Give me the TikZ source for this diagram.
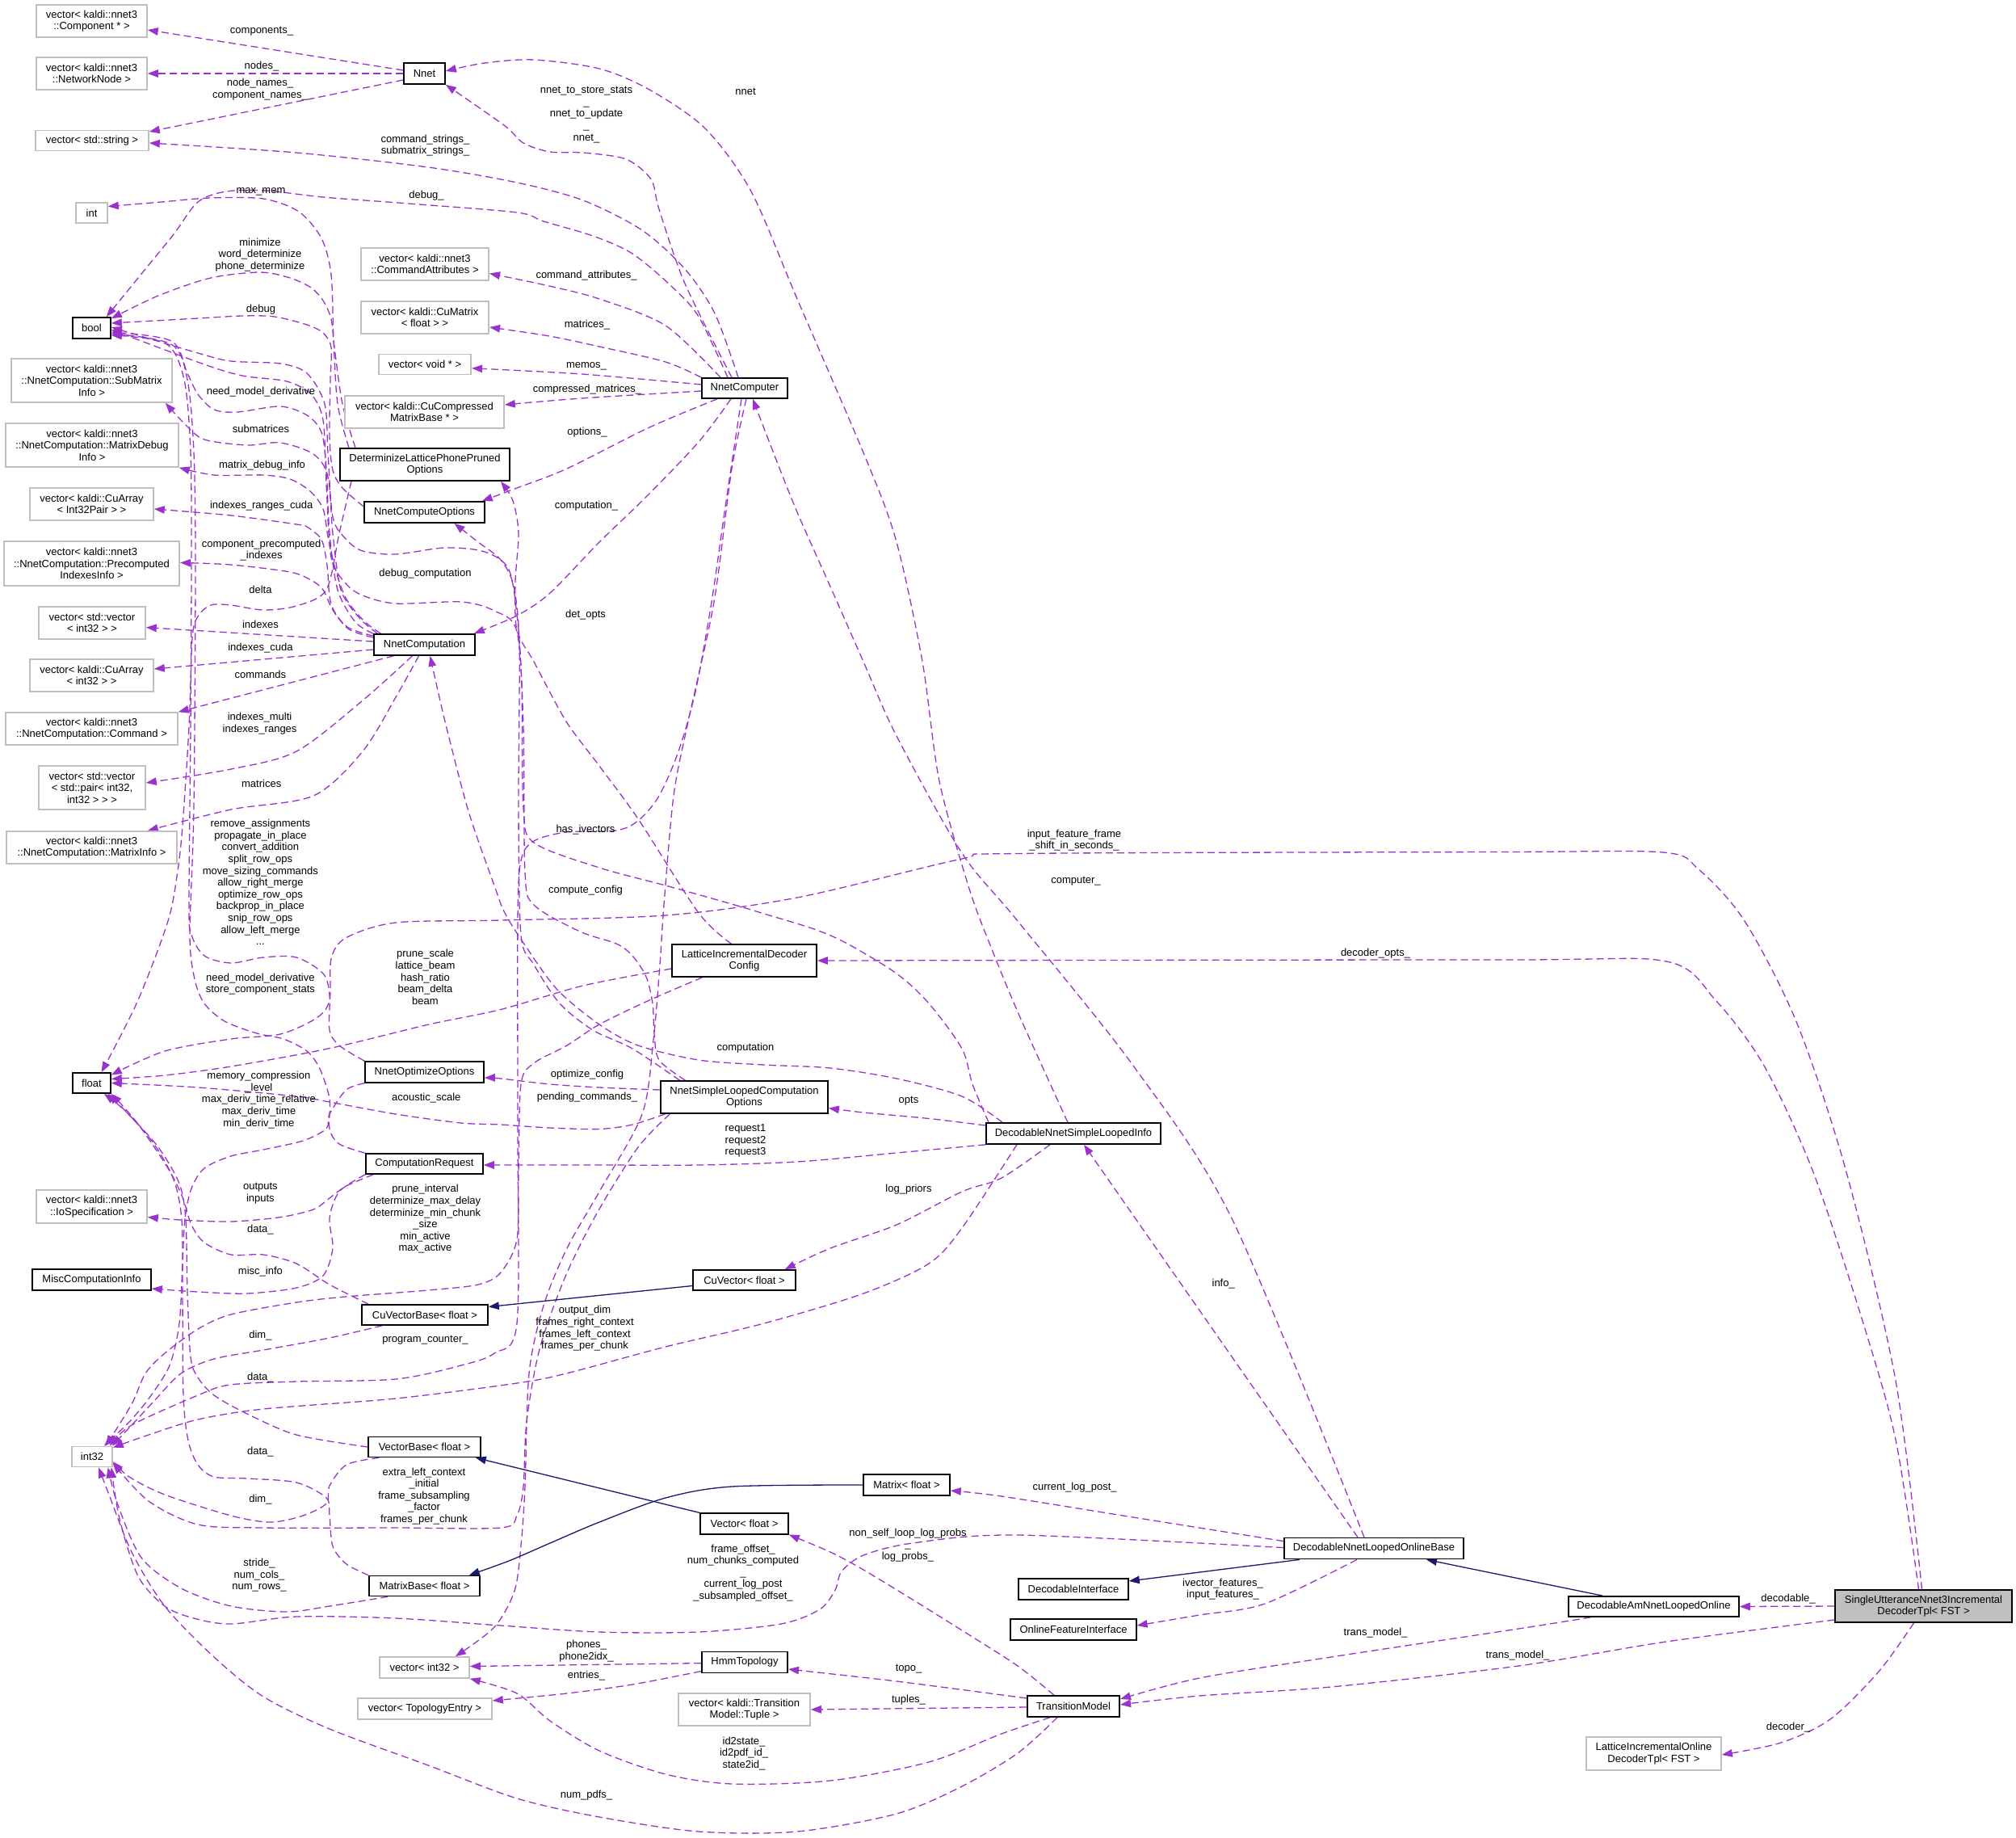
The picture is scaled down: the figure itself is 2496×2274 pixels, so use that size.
\documentclass[tikz,border=0pt]{standalone}
\usepackage{fontspec}
\setmainfont{Liberation Sans}
\usetikzlibrary{arrows.meta}
\definecolor{edgec}{RGB}{154,50,205}
\definecolor{inhc}{RGB}{25,25,112}
\definecolor{grayb}{RGB}{191,191,191}
\pgfdeclarelayer{edgelayer}
\pgfsetlayers{edgelayer,main}
\begin{document}
\begin{tikzpicture}[x=1pt,y=-1pt,
  every node/.style={font=\fontsize{13}{14.6}\selectfont,inner sep=0pt,align=center},
  cls/.style={draw=black,line width=1.6pt,fill=white},
  ext/.style={draw=grayb,line width=1.6pt,fill=white},
  e/.style={draw=edgec,line width=1.3pt,dash pattern=on 9pt off 5pt,-{Triangle[length=13pt,width=9.5pt]}},
  inh/.style={draw=inhc,line width=1.3pt,-{Triangle[length=13pt,width=9.5pt]}},
  sm/.style={smooth,tension=0.5}]
\path[use as bounding box] (0,0) rectangle (2496,2274);

% ---------- class nodes ----------
\node[ext,minimum width=137pt,minimum height=40.5pt] (comp) at (113.5,26) {vector< kaldi::nnet3\\::Component * >};
\node[ext,minimum width=137pt,minimum height=40pt] (netnode) at (113.5,91) {vector< kaldi::nnet3\\::NetworkNode >};
\node[ext,minimum width=140pt,minimum height=25pt] (strvec) at (114,174) {vector< std::string >};
\node[ext,minimum width=39pt,minimum height=25pt] (int) at (113.5,263.5) {int};
\node[cls,minimum width=47pt,minimum height=26pt] (bool) at (113.5,406) {bool};
\node[ext,minimum width=199pt,minimum height=54pt] (submat) at (113.5,471) {vector< kaldi::nnet3\\::NnetComputation::SubMatrix\\Info >};
\node[ext,minimum width=214pt,minimum height=54pt] (matdebug) at (114,551) {vector< kaldi::nnet3\\::NnetComputation::MatrixDebug\\Info >};
\node[ext,minimum width=153pt,minimum height=40pt] (cuarrpair) at (113.5,624) {vector< kaldi::CuArray\\< Int32Pair > >};
\node[ext,minimum width=217.5pt,minimum height=55pt] (precomp) at (113.5,697.5) {vector< kaldi::nnet3\\::NnetComputation::Precomputed\\IndexesInfo >};
\node[ext,minimum width=132pt,minimum height=40pt] (stdvecint) at (114,771) {vector< std::vector\\< int32 > >};
\node[ext,minimum width=153pt,minimum height=40pt] (cuarrint) at (113.5,836) {vector< kaldi::CuArray\\< int32 > >};
\node[ext,minimum width=213pt,minimum height=40pt] (command) at (113.5,902) {vector< kaldi::nnet3\\::NnetComputation::Command >};
\node[ext,minimum width=132pt,minimum height=54pt] (pairvec) at (114,975) {vector< std::vector\\< std::pair< int32,\\int32 > > >};
\node[ext,minimum width=211pt,minimum height=40pt] (matinfo) at (113.5,1049) {vector< kaldi::nnet3\\::NnetComputation::MatrixInfo >};
\node[cls,minimum width=47pt,minimum height=25pt] (float) at (113.5,1340.5) {float};
\node[ext,minimum width=137pt,minimum height=41pt] (iospec) at (113.5,1493.5) {vector< kaldi::nnet3\\::IoSpecification >};
\node[cls,minimum width=147pt,minimum height=26pt] (misc) at (113.5,1584) {MiscComputationInfo};
\node[ext,minimum width=50pt,minimum height=25pt] (int32) at (114,1803) {int32};
\node[cls,minimum width=51pt,minimum height=26pt] (nnet) at (525.5,91) {Nnet};
\node[ext,minimum width=158.5pt,minimum height=40pt] (cmdattr) at (526,327) {vector< kaldi::nnet3\\::CommandAttributes >};
\node[ext,minimum width=158.5pt,minimum height=40pt] (cumat) at (526,393) {vector< kaldi::CuMatrix\\< float > >};
\node[ext,minimum width=114.5pt,minimum height=25pt] (voidvec) at (526,451) {vector< void * >};
\node[ext,minimum width=197pt,minimum height=40pt] (cucomp) at (525.5,510) {vector< kaldi::CuCompressed\\MatrixBase * >};
\node[cls,minimum width=210pt,minimum height=40pt] (dlpp) at (526,575) {DeterminizeLatticePhonePruned\\Options};
\node[cls,minimum width=149pt,minimum height=26pt] (nco) at (525.5,634) {NnetComputeOptions};
\node[cls,minimum width=125pt,minimum height=26pt] (ncomp) at (525.5,798) {NnetComputation};
\node[cls,minimum width=147pt,minimum height=26pt] (noo) at (525.5,1327) {NnetOptimizeOptions};
\node[cls,minimum width=145pt,minimum height=25pt] (creq) at (525.5,1440.5) {ComputationRequest};
\node[cls,minimum width=156pt,minimum height=25pt] (cuvb) at (526,1627.5) {CuVectorBase< float >};
\node[cls,minimum width=139pt,minimum height=25pt] (vb) at (525.5,1791) {VectorBase< float >};
\node[cls,minimum width=137pt,minimum height=25pt] (mb) at (525.5,1963) {MatrixBase< float >};
\node[ext,minimum width=111pt,minimum height=26pt] (vecint32) at (525.5,2064) {vector< int32 >};
\node[ext,minimum width=166pt,minimum height=25.5pt] (topoent) at (526,2115) {vector< TopologyEntry >};
\node[cls,minimum width=106pt,minimum height=25pt] (computer) at (922,480.5) {NnetComputer};
\node[cls,minimum width=179pt,minimum height=40pt] (licfg) at (921.5,1189) {LatticeIncrementalDecoder\\Config};
\node[cls,minimum width=207pt,minimum height=40pt] (nslco) at (921.5,1358) {NnetSimpleLoopedComputation\\Options};
\node[cls,minimum width=127pt,minimum height=25pt] (cuvec) at (921.5,1584.5) {CuVector< float >};
\node[cls,minimum width=109pt,minimum height=25.6pt] (vec) at (921.5,1886) {Vector< float >};
\node[cls,minimum width=106.4pt,minimum height=26pt] (hmm) at (922,2057.6) {HmmTopology};
\node[ext,minimum width=163pt,minimum height=39.5pt] (tuple) at (921.5,2116) {vector< kaldi::Transition\\Model::Tuple >};
\node[cls,minimum width=107pt,minimum height=26pt] (mat) at (1122.5,1838) {Matrix< float >};
\node[cls,minimum width=216pt,minimum height=26pt] (dnsli) at (1329,1403) {DecodableNnetSimpleLoopedInfo};
\node[cls,minimum width=222pt,minimum height=26pt] (dnlob) at (1701,1916.6) {DecodableNnetLoopedOnlineBase};
\node[cls,minimum width=136pt,minimum height=26pt] (decint) at (1329,1967) {DecodableInterface};
\node[cls,minimum width=155.5pt,minimum height=26pt] (ofi) at (1329,2017) {OnlineFeatureInterface};
\node[cls,minimum width=114.5pt,minimum height=26pt] (tm) at (1329,2112) {TransitionModel};
\node[cls,minimum width=211pt,minimum height=25pt] (daml) at (2047.5,1988.5) {DecodableAmNnetLoopedOnline};
\node[cls,fill=grayb,minimum width=219pt,minimum height=40pt] (su) at (2381.5,1988) {SingleUtteranceNnet3Incremental\\DecoderTpl< FST >};
\node[ext,minimum width=167pt,minimum height=41pt] (lido) at (2047.5,2170.5) {LatticeIncrementalOnline\\DecoderTpl< FST >};

% ---------- edge labels ----------
\node (l1) at (324,39) {components\_};
\node (l2) at (324,82) {nodes\_};
\node (l3) at (322,110.5) {node\_names\_\\component\_names\_};
\node (l4) at (726,142) {nnet\_to\_store\_stats\\\_\\nnet\_to\_update\\\_\\nnet\_};
\node (l5) at (923,113.6) {nnet};
\node (l6) at (526.5,180) {command\_strings\_\\submatrix\_strings\_};
\node (l7) at (323,237) {max\_mem};
\node (l8) at (528,242) {debug\_};
\node (l9) at (322,315.5) {minimize\\word\_determinize\\phone\_determinize};
\node (l10) at (726,340.7) {command\_attributes\_};
\node (l11) at (323,383) {debug};
\node (l12) at (727,402.5) {matrices\_};
\node (l13) at (726,453) {memos\_};
\node (l14) at (727,481.7) {compressed\_matrices\_};
\node (l15) at (323,485) {need\_model\_derivative};
\node (l16) at (323,531) {submatrices};
\node (l17) at (727,535) {options\_};
\node (l18) at (324.5,576) {matrix\_debug\_info};
\node (l19) at (726,626) {computation\_};
\node (l20) at (323.7,626.6) {indexes\_ranges\_cuda};
\node (l21) at (323.7,681) {component\_precomputed\\\_indexes};
\node (l22) at (526.5,710) {debug\_computation};
\node (l23) at (322.4,729.4) {delta};
\node (l24) at (725,761) {det\_opts};
\node (l25) at (322.4,772.7) {indexes};
\node (l26) at (322.4,801.6) {indexes\_cuda};
\node (l27) at (322.4,834.5) {commands};
\node (l28) at (321.6,895.5) {indexes\_multi\\indexes\_ranges};
\node (l29) at (323.7,969.5) {matrices};
\node (l30) at (322.4,1092) {remove\_assignments\\propagate\_in\_place\\convert\_addition\\split\_row\_ops\\move\_sizing\_commands\\allow\_right\_merge\\optimize\_row\_ops\\backprop\_in\_place\\snip\_row\_ops\\allow\_left\_merge\\...};
\node (l31) at (725,1027) {has\_ivectors};
\node (l32) at (1330,1040) {input\_feature\_frame\\\_shift\_in\_seconds\_};
\node (l33) at (1332,1091) {computer\_};
\node (l34) at (725,1102) {compute\_config};
\node (l35) at (1703,1180) {decoder\_opts\_};
\node (l36) at (526.5,1209.5) {prune\_scale\\lattice\_beam\\hash\_ratio\\beam\_delta\\beam};
\node (l37) at (322.4,1218) {need\_model\_derivative\\store\_component\_stats};
\node (l38) at (923,1297) {computation};
\node (l39) at (727,1330) {optimize\_config};
\node (l40) at (320.4,1361.5) {memory\_compression\\\_level\\max\_deriv\_time\_relative\\max\_deriv\_time\\min\_deriv\_time};
\node (l41) at (527.8,1358.6) {acoustic\_scale};
\node (l42) at (727,1358.6) {pending\_commands\_};
\node (l43) at (1125,1363) {opts};
\node (l44) at (923,1412) {request1\\request2\\request3};
\node (l45) at (322.4,1477) {outputs\\inputs};
\node (l46) at (1125,1472.6) {log\_priors};
\node (l47) at (526.5,1509) {prune\_interval\\determinize\_max\_delay\\determinize\_min\_chunk\\\_size\\min\_active\\max\_active};
\node (l48) at (322.4,1522.5) {data\_};
\node (l49) at (322.4,1574.3) {misc\_info};
\node (l50) at (1514.7,1588.7) {info\_};
\node (l51) at (724,1644.5) {output\_dim\\frames\_right\_context\\frames\_left\_context\\frames\_per\_chunk};
\node (l52) at (322.4,1653.5) {dim\_};
\node (l53) at (526.5,1659) {program\_counter\_};
\node (l54) at (322.4,1705) {data\_};
\node (l55) at (322.4,1797) {data\_};
\node (l56) at (525,1852) {extra\_left\_context\\\_initial\\frame\_subsampling\\\_factor\\frames\_per\_chunk};
\node (l57) at (1330.6,1841) {current\_log\_post\_};
\node (l58) at (322.4,1856.5) {dim\_};
\node (l59) at (1124,1912.5) {non\_self\_loop\_log\_probs\\\_\\log\_probs\_};
\node (l60) at (920,1947) {frame\_offset\_\\num\_chunks\_computed\\\_\\current\_log\_post\\\_subsampled\_offset\_};
\node (l61) at (321,1949.6) {stride\_\\num\_cols\_\\num\_rows\_};
\node (l62) at (1514,1967) {ivector\_features\_\\input\_features\_};
\node (l63) at (2214,1979.5) {decodable\_};
\node (l64) at (1703,2021) {trans\_model\_};
\node (l65) at (726,2043.6) {phones\_\\phone2idx\_};
\node (l66) at (1879,2049) {trans\_model\_};
\node (l67) at (1125,2066) {topo\_};
\node (l68) at (726,2073.6) {entries\_};
\node (l69) at (1125,2104.5) {tuples\_};
\node (l70) at (2214,2138) {decoder\_};
\node (l71) at (921,2170.5) {id2state\_\\id2pdf\_id\_\\state2id\_};
\node (l72) at (726,2222.6) {num\_pdfs\_};

% ---------- edges ----------
\begin{pgfonlayer}{edgelayer}
% Nnet
\draw[e] ([yshift=4pt]nnet.west) -- ([yshift=-11pt]comp.east);
\draw[e] (nnet.west) -- (netnode.east);
\draw[e] ([yshift=-8pt]nnet.west) -- ([yshift=11pt]strvec.east);
% NnetComputer
\draw[e] plot[sm] coordinates {([xshift=-16pt]computer.north) (848,351) (816,259) (806,222) (775,197) (722,189) (681,188) (648,177) (624,155) (nnet.south east)};
\draw[e] plot[sm] coordinates {([xshift=-8pt]computer.north) (885,388) (848,333) (795,285) (722,248) (640,226) (530,207) (367,189) ([yshift=-3pt]strvec.east)};
\draw[e] plot[sm] coordinates {([xshift=-21pt]computer.north) (865,392) (832,355) (783,314) (734,292) (673,274) (640,263) (506,252) (400,244) (330,236) (280,237) (245,250) (215,290) (180,333) ([xshift=-6pt]bool.north east)};
\draw[e] plot[sm] coordinates {([xshift=-30pt]computer.north) (824,403) (742,370) (680,354) ([yshift=-11.5pt]cmdattr.east)};
\draw[e] plot[sm] coordinates {(computer.north west) (824,448) (742,429) (680,416) ([yshift=-12pt]cumat.east)};
\draw[e] plot[sm] coordinates {([yshift=4.5pt]computer.west) (720,463) ([yshift=-4.8pt]voidvec.east)};
\draw[e] plot[sm] coordinates {([yshift=-3.5pt]computer.west) (720,493) ([yshift=9pt]cucomp.east)};
\draw[e] plot[sm] coordinates {([xshift=-34pt]computer.south) (804,529) (702,580) (640,604) ([xshift=-4pt]nco.north east)};
\draw[e] plot[sm] coordinates {([xshift=-17pt]computer.south) (865,547) (800,615) (742,671) (681,734) (640,762) ([xshift=-2pt]ncomp.north east)};
\draw[e] plot[sm] coordinates {([xshift=-4pt]computer.south) (908,560) (897,634) (881,745) (861,856) (840,930) (816,985) (791,1015) (763,1028) (701,1030) (661,1041) (645,1065) (641,1140) (641,1400) (640,1638) (612,1675) (571,1690) (490,1707) (367,1710) (285,1714) (245,1727) (163,1764) ([xshift=-4pt]int32.north east)};
\draw[e] plot[sm] coordinates {([xshift=2pt]computer.south) (906,580) (884,745) (852,893) (834,985) (822,1120) (817,1194) (809,1287) (795,1379) (742,1475) (702,1545) (673,1616) (655,1700) (650,1840) (645,1913) (637,1969) (612,2014) ([xshift=-18pt]vecint32.north east)};
% DecodableNnetLoopedOnlineBase
\draw[e] plot[sm] coordinates {([xshift=-12pt]dnlob.north) (1526,1510) (1403,1319) (1260,1140) (1191,1056) (1110,911) (1069,819) (1028,726) (987,634) (959,564) ([xshift=10pt]computer.south)};
\draw[e] ([xshift=-20pt]dnlob.north) -- ([xshift=13pt]dnsli.south);
\draw[e] plot[sm] coordinates {([yshift=9pt]dnlob.west) (1403,1878) (1240,1852) ([yshift=-7pt]mat.east)};
\draw[e] plot[sm] coordinates {([yshift=1pt]dnlob.west) (1260,1900) (1130,1910) (1069,1925) (1042,1945) (1034,1968) (1015,1992) (967,2010) (865,2020) (742,2020) (620,2012) (490,2003) (367,2001) (286,2010) (240,2003) (204,1988) (171,1951) (148,1880) ([xshift=-2pt]int32.south east)};
\draw[e] plot[sm] coordinates {([xshift=-21pt]dnlob.south) (1566,1985) (1485,1999) ([yshift=5pt]ofi.east)};
\draw[inh] ([xshift=-92pt]dnlob.south) -- ([yshift=10pt]decint.east);
% DecodableAmNnetLoopedOnline
\draw[inh] ([xshift=-63pt]daml.north) -- ([xshift=65pt]dnlob.south);
\draw[e] plot[sm] coordinates {([xshift=-78pt]daml.south) (1880,2016) (1648,2051) (1485,2077) ([yshift=9pt]tm.east)};
% SingleUtterance...
\draw[e] (su.west) -- (daml.east);
\draw[e] plot[sm] coordinates {([yshift=-17pt]su.west) (2063,2032) (1880,2062) (1648,2088) (1485,2099) ([yshift=2pt]tm.east)};
\draw[e] plot[sm] coordinates {([xshift=-12pt]su.south) (2326,2069) (2266,2128) (2205,2157) ([yshift=-1.5pt]lido.east)};
\draw[e] plot[sm] coordinates {([xshift=-6pt]su.north) (2347,1782) (2306,1635) (2245,1451) (2184,1319) (2124,1238) (2063,1190) (1860,1188) (licfg.east)};
\draw[e] plot[sm] coordinates {([xshift=-2pt]su.north) (2347,1709) (2286,1451) (2225,1267) (2160,1140) (2103,1076) (2059,1055) (1860,1054.5) (1260,1056.5) (1191,1063) (987,1111) (824,1133) (620,1139) (490,1142) (428,1161) (410,1187) (408,1238) (392,1260) (347,1280) (286,1286) (204,1301) ([yshift=10pt]float.east)};
% TransitionModel
\draw[e] plot[sm] coordinates {([yshift=10pt]tm.west) (1110,2081) ([yshift=-8.5pt]hmm.east)};
\draw[e] ([yshift=-1pt]tm.west) -- (tuple.east);
\draw[e] plot[sm] coordinates {([xshift=-29pt]tm.south) (1240,2146) (1150,2181) (1028,2204) (906,2208) (824,2196) (742,2167) (681,2130) (640,2096) (vecint32.south east)};
\draw[e] plot[sm] coordinates {([xshift=-20pt]tm.south) (1260,2170) (1191,2211) (1110,2245) (987,2267) (865,2267) (742,2249) (640,2226) (530,2185) (408,2140) (326,2100) (265,2051) (204,1988) (163,1921) (135,1850) ([xshift=8pt]int32.south)};
\draw[e] plot[sm] coordinates {([xshift=-24pt]tm.north) (1260,2062) (1191,2018) (1130,1980) (1069,1943) (1028,1921) (vec.south east)};
% HmmTopology
\draw[e] ([yshift=-1pt]hmm.west) -- ([yshift=1.5pt]vecint32.east);
\draw[e] plot[sm] coordinates {([yshift=-11pt]hmm.west) (783,2085) (702,2096) ([yshift=10pt]topoent.east)};
% DecodableNnetSimpleLoopedInfo
\draw[e] plot[sm] coordinates {([xshift=-7pt]dnsli.north) (1262,1257) (1228,1175) (1200,1100) (1163,967) (1142,819) (1110,671) (1073,570) (987,370) (930,237) (873,159) (804,111) (742,85) (661,74) (600,78) ([yshift=3pt]nnet.east)};
\draw[e] plot[sm] coordinates {([yshift=10pt]dnsli.west) (1150,1384.5) (1069,1377) ([yshift=-13.6pt]nslco.east)};
\draw[e] plot[sm] coordinates {(dnsli.south west) (1110,1427) (987,1438) (865,1442) (742,1442) ([yshift=-1.5pt]creq.east)};
\draw[e] plot[sm] coordinates {([xshift=-29pt]dnsli.south) (1240,1458) (1191,1475) (1110,1516) (1028,1545) ([xshift=-14pt]cuvec.north east)};
\draw[e] plot[sm] coordinates {([xshift=-88pt]dnsli.north) (1191,1357) (1110,1335) (1028,1322) (946,1318) (865,1312) (790,1294) (742,1268) (690,1225) (650,1170) (625,1130) (612,1096) (580,1004) (551,893) ([xshift=7pt]ncomp.south)};
\draw[e] plot[sm] coordinates {([xshift=-105pt]dnsli.north) (1204,1342) (1191,1298) (1150,1242) (1110,1205) (1049,1168) (1008,1150) (946,1131) (906,1119) (824,1096) (742,1074) (661,1043) (648,1000) (646,850) (641,770) (630,705) (600,683) (551,678) (490,686) (449,682) (428,667) (412,640) (406,560) (402,500) (380,462) (347,450) (286,447) (245,437) ([yshift=1pt]bool.east)};
\draw[e] plot[sm] coordinates {([xshift=-70pt]dnsli.south) (1191,1520) (1150,1564) (1069,1601) (946,1638) (824,1667) (701,1700) (640,1712) (490,1731) (326,1744) (245,1757) (184,1776) ([yshift=-2pt]int32.north east)};
% NnetSimpleLoopedComputationOptions
\draw[e] plot[sm] coordinates {([yshift=9pt]nslco.west) (742,1346) (681,1342) (620,1335) ([yshift=-7pt]noo.east)};
\draw[e] plot[sm] coordinates {([xshift=-80pt]nslco.north) (783,1298) (734,1275) (693,1242) (661,1194) (645,1157) (642,1000) (643,800) (636,726) (620,693) (592,671) ([xshift=37pt]nco.south)};
\draw[e] plot[sm] coordinates {([xshift=-73pt]nslco.north) (816,1312) (810,1279) (808,1242) (800,1209) (783,1183) (763,1168) (718,1153) (661,1120) (650,1080) (648,900) (640,782) (612,756) (571,745) (490,747) (449,737) (428,722) (410,690) (404,600) (400,520) (385,488) (355,472) (300,465) (250,450) ([yshift=-2pt]bool.east)};
\draw[e] plot[sm] coordinates {([xshift=-98pt]nslco.south) (783,1392) (742,1397.5) (681,1396) (620,1392) (571,1390) (490,1379) (408,1364) (367,1357) (245,1346) (float.east)};
\draw[e] plot[sm] coordinates {([xshift=-92pt]nslco.south) (790,1420) (740,1500) (700,1580) (668,1670) (652,1760) (648,1840) (640,1876) (620,1891) (490,1891) (326,1891) (245,1887) (184,1858) ([yshift=-8pt]int32.east)};
% LatticeIncrementalDecoderConfig
\draw[e] plot[sm] coordinates {([xshift=-16pt]licfg.north) (865,1130) (791,1015) (742,948) (701,893) (661,819) (640,780) (638,720) (642,660) (635,620) ([xshift=94pt]dlpp.south)};
\draw[e] plot[sm] coordinates {([yshift=-10pt]licfg.west) (722,1220) (620,1249.5) (531,1268) (408,1297.6) (286,1320) (204,1331) ([yshift=5pt]float.east)};
\draw[e] plot[sm] coordinates {([xshift=-52pt]licfg.south) (804,1238) (742,1268) (702,1294) (661,1316) (645,1342) (642,1450) (640,1534) (620,1575) (592,1590) (530,1597) (428,1605) (367,1612) (286,1627) (245,1645) (204,1675) (180,1700) (163,1738) ([xshift=-9pt]int32.north east)};
% DeterminizeLatticePhonePrunedOptions
\draw[e] plot[sm] coordinates {([xshift=-94pt]dlpp.north) (418,500) (413,420) (410,340) (398,295) (370,262) (326,246) (260,245) (200,250) ([yshift=8pt]int.east)};
\draw[e] plot[sm] coordinates {([xshift=-86pt]dlpp.north) (424,500) (414,430) (410,395) (400,372) (385,356) (359,344) (322,337) (261,344) (196,366) ([yshift=-2pt]bool.north east)};
\draw[e] plot[sm] coordinates {([xshift=-91pt]dlpp.south) (420,660) (404,730) (367,750) (326,755) (286,749) (261,749) (245,763) (238,790) (234,900) (226,1022) (220,1078) (208,1140) (170,1240) ([xshift=12pt]float.north)};
% NnetComputeOptions
\draw[e] plot[sm] coordinates {([yshift=7pt]nco.west) (424,604) (412,582) (408,540) (409,470) (410,430) (400,412) (380,402) (340,392) (300,391) (245,394) ([yshift=6pt]bool.east)};
% NnetComputation
\draw[e] plot[sm] coordinates {(ncomp.north west) (440,770) (418,730) (408,660) (404,580) (398,535) (380,514) (347,503) (294,510) (265,507) (245,488) (232,462) (212,422) ([yshift=-5pt]bool.east)};
\draw[e] plot[sm] coordinates {([xshift=-58pt]ncomp.north) (445,765) (422,730) (412,660) (406,590) (388,562) (347,548) (306,551) (253,544) (229,525) ([xshift=-9pt]submat.south east)};
\draw[e] plot[sm] coordinates {([xshift=-54pt]ncomp.north) (450,768) (428,740) (414,700) (406,664) (400,630) (384,608) (359,593) (326,588) (265,588) (matdebug.south east)};
\draw[e] plot[sm] coordinates {([yshift=11pt]ncomp.west) (430,776) (410,748) (405,700) (398,668) (380,652) (367,649) (286,638) ([yshift=-6pt]cuarrpair.east)};
\draw[e] plot[sm] coordinates {([yshift=9pt]ncomp.west) (432,779) (412,755) (400,730) (385,718) (359,708) (286,699) ([yshift=1pt]precomp.east)};
\draw[e] ([yshift=4pt]ncomp.west) -- ([yshift=-5.6pt]stdvecint.east);
\draw[e] ([yshift=-6pt]ncomp.west) -- ([yshift=8pt]cuarrint.east);
\draw[e] ([xshift=-38pt]ncomp.south) -- (command.north east);
\draw[e] plot[sm] coordinates {([xshift=-15pt]ncomp.south) (449,867) (367,930) (286,952) ([yshift=6pt]pairvec.east)};
\draw[e] plot[sm] coordinates {([xshift=-7pt]ncomp.south) (490,863) (449,930) (388,985) (286,1002) ([xshift=-37pt]matinfo.north east)};
% ComputationRequest / NnetOptimizeOptions
\draw[e] plot[sm] coordinates {(creq.north west) (420,1416) (408,1397) (408,1360) (396,1323) (380,1301) (351,1286) (318,1279) (278,1264) (253,1242) (241,1212) (235,1157) (240,1000) (242,700) (240,560) (232,470) (212,426) ([yshift=-7pt]bool.east)};
\draw[e] plot[sm] coordinates {(noo.north west) (420,1294) (408,1275) (408,1231) (400,1205) (367,1185) (326,1185) (286,1192) (253,1183) (237,1157) (234,1120) (236,900) (237,700) (236,560) (228,470) (205,425) ([yshift=-9pt]bool.east)};
\draw[e] plot[sm] coordinates {(noo.south west) (428.6,1349) (408,1379) (404,1397) (375,1412) (326,1423) (286,1431) (253,1446) (237,1471) (229,1508) (226,1564) (222,1638) (210,1690) (185,1730) (160,1760) ([xshift=-11pt]int32.north east)};
\draw[e] plot[sm] coordinates {([xshift=10pt]creq.south west) (428.6,1468) (408,1483) (388,1497) (347,1506.6) (286,1512) (224,1510) ([yshift=-13pt]iospec.east)};
\draw[e] plot[sm] coordinates {(creq.south west) (420,1475) (408,1508) (412,1545) (400,1579) (367,1594) (306,1601) (245,1599) ([yshift=-11pt]misc.east)};
% vectors / matrices
\draw[e] plot[sm] coordinates {([xshift=9pt]cuvb.north west) (408,1590) (367,1564) (326,1553) (286,1553) (253,1538) (237,1516) (226,1482) (208,1446) (170,1390) (float.south east)};
\draw[e] plot[sm] coordinates {([xshift=26pt]cuvb.south west) (408,1656) (326,1671) (265,1682) (224,1700) (190,1735) (163,1764) ([xshift=-1pt]int32.north east)};
\draw[e] plot[sm] coordinates {(vb.west) (367,1776) (306,1750) (265,1727) (245,1705) (236,1680) (232,1600) (230,1510) (222,1465) (196,1420) (160,1380) ([xshift=-4pt]float.south east)};
\draw[e] plot[sm] coordinates {(mb.north west) (429,1936) (412,1914) (408,1876) (404,1854) (367,1835) (306,1830) (265,1828) (245,1813) (233,1783) (227,1727) (226,1600) (225,1510) (215,1460) (190,1415) (155,1375) ([xshift=-9pt]float.south east)};
\draw[e] plot[sm] coordinates {([xshift=14pt]vb.south west) (429,1813) (408,1839) (404,1861) (375,1876) (335,1884) (286,1876) (204,1850) (160,1828) ([yshift=-6pt]int32.east)};
\draw[e] plot[sm] coordinates {([xshift=24pt]mb.south west) (408,1988) (355,1995) (286,1988) (224.5,1966) (175,1928) (145,1860) ([xshift=-6pt]int32.south east)};
% inheritance
\draw[inh] ([yshift=-7pt]cuvec.west) -- ([yshift=10pt]cuvb.east);
\draw[inh] (vec.north west) -- ([xshift=-7pt]vb.south east);
\draw[inh] plot[sm] coordinates {(mat.west) (906,1840) (824,1854) (742,1884) (681,1910) (630,1932) ([xshift=-14pt]mb.north east)};
\end{pgfonlayer}
\end{tikzpicture}
\end{document}
